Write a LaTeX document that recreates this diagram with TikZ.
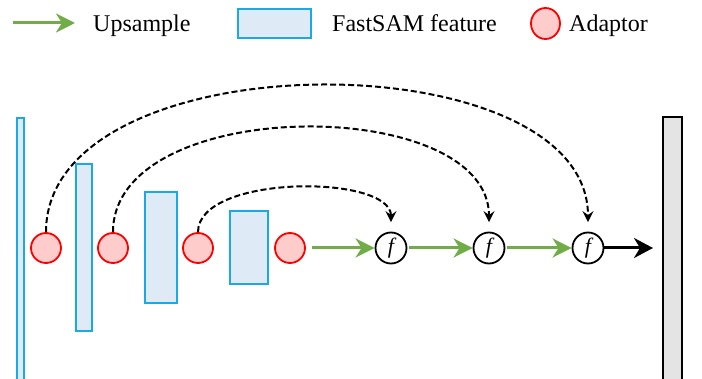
\documentclass[tikz,border=0pt]{standalone}
\usepackage{fontspec}
\setmainfont{Liberation Serif}
\usetikzlibrary{shapes.geometric,arrows.meta}
\definecolor{featline}{HTML}{1BA8E6}
\definecolor{featfill}{HTML}{DEEAF6}
\definecolor{adline}{HTML}{FF0000}
\definecolor{adfill}{HTML}{FFCCCC}
\definecolor{upgreen}{HTML}{70AD47}
\definecolor{outfill}{HTML}{E4E4E4}
\tikzset{
  feat/.style={draw=featline, fill=featfill, line width=2pt, inner sep=0pt, rectangle},
  adaptor/.style={circle, draw=adline, fill=adfill, line width=1.8pt, minimum size=30pt, inner sep=0pt},
  fuse/.style={circle, draw=black, line width=1.8pt, minimum size=31pt, inner sep=0pt, font=\fontsize{22}{24}\selectfont\itshape},
  upsample/.style={draw=upgreen, line width=3pt, -{Stealth[length=19pt,width=19pt,inset=6pt]}},
  skip/.style={draw=black, line width=2pt, dash pattern=on 6pt off 3pt, -{Stealth[length=11pt,width=11pt,inset=4pt]}},
  legendtxt/.style={anchor=base west, inner sep=0pt, font=\fontsize{24}{28}\selectfont},
}
\begin{document}
\begin{tikzpicture}[x=1pt,y=-1pt]
\clip (0,0) rectangle (702,379);
\fill[white] (0,0) rectangle (702,379);
% legend
\coordinate (lgA) at (12.5,23);
\coordinate (lgB) at (75,23);
\draw[upsample] (lgA) -- (lgB);
\node[legendtxt] (lgUp) at (93,31.5) {Upsample};
\node[feat, minimum width=73pt, minimum height=29pt] (lgFeat) at (274.5,23.5) {};
\node[legendtxt] (lgFeatTxt) at (332,31.5) {FastSAM feature};
\node[ellipse, draw=adline, fill=adfill, line width=1.8pt, minimum width=29pt, minimum height=31pt, inner sep=0pt] (lgAd) at (545.5,23.5) {};
\node[legendtxt] (lgAdTxt) at (569,31.5) {Adaptor};
% features
\node[feat, minimum width=7pt, minimum height=271pt] (r1) at (20.5,253.5) {};
\node[feat, minimum width=16pt, minimum height=167pt] (r2) at (84,247.5) {};
\node[feat, minimum width=32pt, minimum height=111pt] (r3) at (161,247.5) {};
\node[feat, minimum width=38pt, minimum height=73pt] (r4) at (249,247.5) {};
% output
\node[rectangle, draw=black, fill=outfill, line width=2pt, minimum width=19pt, minimum height=272pt, inner sep=0pt] (out) at (672.5,253) {};
% adaptors
\node[adaptor] (a1) at (46,248) {};
\node[adaptor] (a2) at (113,248) {};
\node[adaptor] (a3) at (198,248) {};
\node[adaptor] (a4) at (290,248) {};
% fusion
\node[fuse] (f1) at (391,248) {f};
\node[fuse] (f2) at (489,248) {f};
\node[fuse] (f3) at (588,248) {f};
% upsample arrows
\draw[upsample, shorten <=6pt] (a4) -- (f1);
\draw[upsample, shorten <=2pt] (f1) -- (f2);
\draw[upsample, shorten <=2pt] (f2) -- (f3);
\draw[black, line width=3pt, -{Stealth[length=19pt,width=20pt,inset=6pt]}, shorten >=9pt] (f3) -- (f3 -| out.west);
% skip connections
\draw[skip, shorten >=9.5pt] (a1.north) .. controls +(0,-194) and +(0,-193.5) .. (f3.north);
\draw[skip, shorten >=9.5pt] (a2.north) .. controls +(0,-138) and +(0,-137.5) .. (f2.north);
\draw[skip, shorten >=9.5pt] (a3.north) .. controls +(0,-58) and +(0,-57.5) .. (f1.north);
\end{tikzpicture}
\end{document}
